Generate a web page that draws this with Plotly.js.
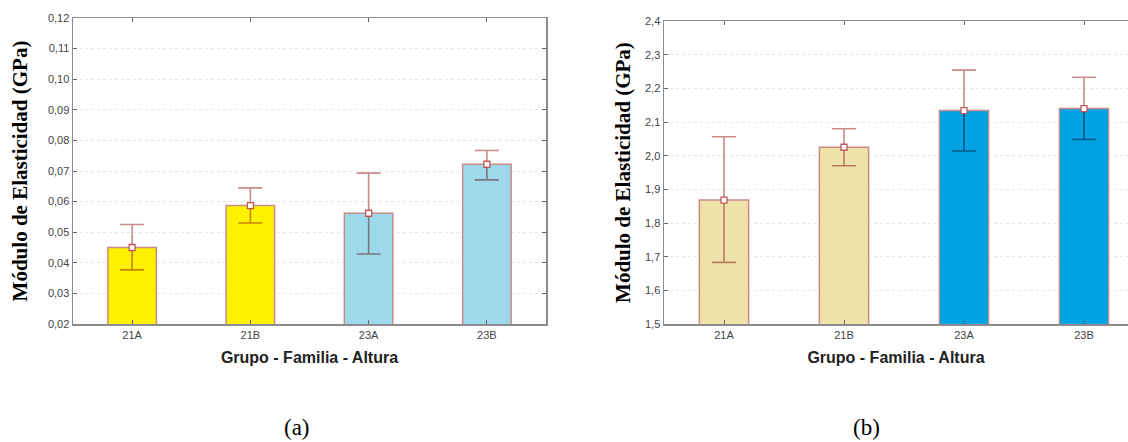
<!DOCTYPE html>
<html>
<head>
<meta charset="utf-8">
<script src="https://cdn.plot.ly/plotly-3.0.1.min.js"></script>
<style>
  html, body { margin: 0; padding: 0; background: #fff; }
  #chart { width: 1128px; height: 442px; }
  /* whiskers darken the bar they cross, like a multiplied overlay */
  .errorbar path { mix-blend-mode: multiply; }
</style>
</head>
<body>
<div id="chart"></div>
<script>
// Groups (grupo-familia-altura)
const categories = ['21A', '21B', '23A', '23B'];

// (a) modulus of elasticity, GPa: mean and interval bounds
const modA = [0.0450, 0.0587, 0.0562, 0.0722];
const modAHigh = [0.0525, 0.0645, 0.0693, 0.0767];
const modALow = [0.0377, 0.0530, 0.0429, 0.0671];

// (b) modulus of elasticity, GPa: mean and interval bounds
const modB = [1.868, 2.025, 2.134, 2.140];
const modBHigh = [2.056, 2.080, 2.254, 2.233];
const modBLow = [1.683, 1.970, 2.014, 2.048];

// bar fills
const fillA = ['#fff200', '#fff200', '#9dd9ea', '#9dd9ea'];
const fillB = ['#efe3a9', '#efe3a9', '#00a2e6', '#00a2e6'];

const whisker = 'rgb(201,139,139)';
const edge = 'rgb(200,140,135)';

function plus(mean, hi) { return mean.map((m, i) => hi[i] - m); }
function minus(mean, lo) { return mean.map((m, i) => m - lo[i]); }

function panel(mean, hi, lo, fills, xa, ya) {
  return [
    {
      type: 'bar', x: categories, y: mean, xaxis: xa, yaxis: ya,
      width: 0.41,
      marker: { color: fills, line: { color: edge, width: 1.5 } },
      hoverinfo: 'x+y', showlegend: false
    },
    {
      type: 'scatter', mode: 'markers', x: categories, y: mean, xaxis: xa, yaxis: ya,
      marker: { symbol: 'square', size: 6, color: '#ffffff',
                line: { color: 'rgb(190,90,95)', width: 1.3 } },
      error_y: { type: 'data', symmetric: false,
                 array: plus(mean, hi), arrayminus: minus(mean, lo),
                 color: whisker, thickness: 1.6, width: 12 },
      hoverinfo: 'skip', showlegend: false
    }
  ];
}

const data = [].concat(
  panel(modA, modAHigh, modALow, fillA, 'x', 'y'),
  panel(modB, modBHigh, modBLow, fillB, 'x2', 'y2')
);

const tickFont = { family: 'Liberation Sans, Arial, sans-serif', size: 11, color: '#444' };
const yTitleFont = { family: 'Liberation Serif, Times New Roman, serif', size: 21, color: '#000' };
const xTitleFont = { family: 'Liberation Sans, Arial, sans-serif', size: 16, color: '#222' };

const axisCommon = {
  showline: true, linecolor: '#8c8c8c', linewidth: 1.5,
  ticks: 'inside', ticklen: 4, tickcolor: '#666', tickwidth: 1,
  tickfont: tickFont, zeroline: false, fixedrange: true
};

const W = 1128;

const layout = {
  width: 1128, height: 442,
  margin: { l: 0, r: 0, t: 0, b: 0 },
  paper_bgcolor: '#ffffff', plot_bgcolor: '#ffffff',
  separators: ', ',
  showlegend: false,
  xaxis: Object.assign({}, axisCommon, {
    domain: [73 / W, 546 / W], anchor: 'y',
    type: 'category', range: [-0.5, 3.5], mirror: 'allticks',
    showgrid: false,
    title: { text: '<b>Grupo - Familia - Altura</b>', font: xTitleFont, standoff: 12 }
  }),
  yaxis: Object.assign({}, axisCommon, {
    domain: [1 - 324 / 442, 1 - 18 / 442], anchor: 'x',
    range: [0.02, 0.12], dtick: 0.01, tick0: 0.02, tickformat: '.2f',
    mirror: 'allticks',
    showgrid: true, gridcolor: '#e6e6e6', griddash: 'dot', gridwidth: 1,
    title: { text: '<b>Módulo de Elasticidad (GPa)</b>', font: yTitleFont, standoff: 14 }
  }),
  xaxis2: Object.assign({}, axisCommon, {
    domain: [664 / W, 1], anchor: 'y2',
    type: 'category', range: [-0.5, 3.5 - 16 / 120], mirror: 'ticks',
    showgrid: false,
    title: { text: '<b>Grupo - Familia - Altura</b>', font: xTitleFont, standoff: 12 }
  }),
  yaxis2: Object.assign({}, axisCommon, {
    domain: [1 - 324 / 442, 1 - 21 / 442], anchor: 'x2',
    range: [1.5, 2.4], dtick: 0.1, tick0: 1.5, tickformat: '.1f',
    showgrid: true, gridcolor: '#e6e6e6', griddash: 'dot', gridwidth: 1,
    title: { text: '<b>Módulo de Elasticidad (GPa)</b>', font: yTitleFont, standoff: 8 }
  }),
  annotations: [
    { text: '(a)', xref: 'paper', yref: 'paper', x: 297 / W, y: 1 - 427 / 442,
      showarrow: false, xanchor: 'center', yanchor: 'middle',
      font: { family: 'Liberation Serif, Times New Roman, serif', size: 23, color: '#000' } },
    { text: '(b)', xref: 'paper', yref: 'paper', x: 866 / W, y: 1 - 427 / 442,
      showarrow: false, xanchor: 'center', yanchor: 'middle',
      font: { family: 'Liberation Serif, Times New Roman, serif', size: 23, color: '#000' } }
  ]
};

Plotly.newPlot('chart', data, layout, { displayModeBar: false, staticPlot: true });
</script>
</body>
</html>
